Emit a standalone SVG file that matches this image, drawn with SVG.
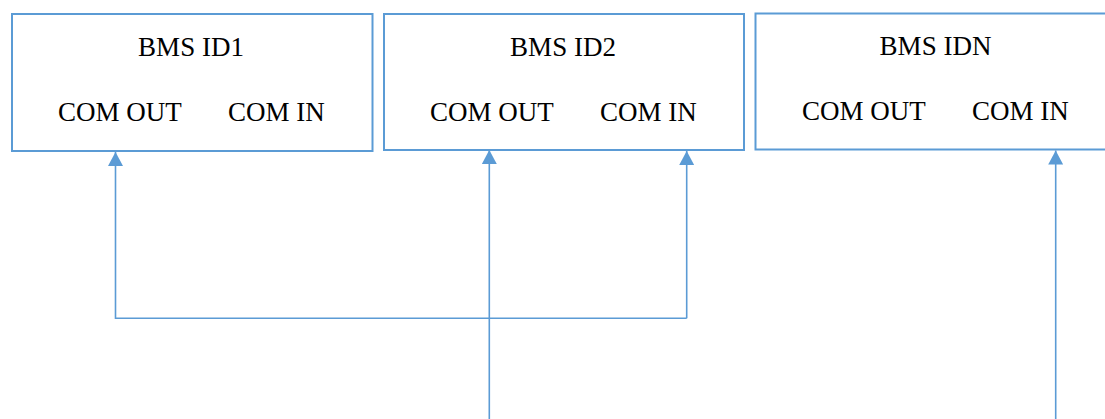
<svg xmlns="http://www.w3.org/2000/svg" width="1105" height="419" viewBox="0 0 1105 419">
<style>
.box{fill:#fff;stroke:#5B9BD5;stroke-width:2}
.t{font-family:"Liberation Serif","Times New Roman",serif;font-size:27px;fill:#000}
.c{fill:none;stroke:#5B9BD5;stroke-width:1.6}
</style>
<defs>
<marker id="ah" markerUnits="userSpaceOnUse" markerWidth="16" markerHeight="15" refX="14" refY="7.5" orient="auto">
<path d="M0,0 L14,7.5 L0,15 Z" fill="#5B9BD5"/>
</marker>
</defs>
<rect width="1105" height="419" fill="#fff"/>
<g id="node-bms1">
<rect class="box" x="12" y="14" width="360.5" height="137"/>
<text class="t" x="191" y="56" text-anchor="middle">BMS ID1</text>
<text class="t" x="120" y="121" text-anchor="middle">COM OUT</text>
<text class="t" x="276.5" y="121" text-anchor="middle">COM IN</text>
</g>
<g id="node-bms2">
<rect class="box" x="384" y="14" width="360" height="136"/>
<text class="t" x="563" y="56" text-anchor="middle">BMS ID2</text>
<text class="t" x="492" y="121" text-anchor="middle">COM OUT</text>
<text class="t" x="648.5" y="121" text-anchor="middle">COM IN</text>
</g>
<g id="node-bmsn">
<rect class="box" x="755.5" y="13.5" width="360" height="136"/>
<text class="t" x="935.5" y="55" text-anchor="middle">BMS IDN</text>
<text class="t" x="864" y="119.5" text-anchor="middle">COM OUT</text>
<text class="t" x="1020.5" y="119.5" text-anchor="middle">COM IN</text>
</g>
<g id="connectors">
<path class="c" d="M686.7,318.3 L115.5,318.3 L115.5,152" marker-end="url(#ah)"/>
<path class="c" d="M686.7,318.3 L686.7,151" marker-end="url(#ah)"/>
<path class="c" d="M489.3,419 L489.3,150" marker-end="url(#ah)"/>
<path class="c" d="M1055.7,419 L1055.7,150.5" marker-end="url(#ah)"/>
</g>
</svg>
